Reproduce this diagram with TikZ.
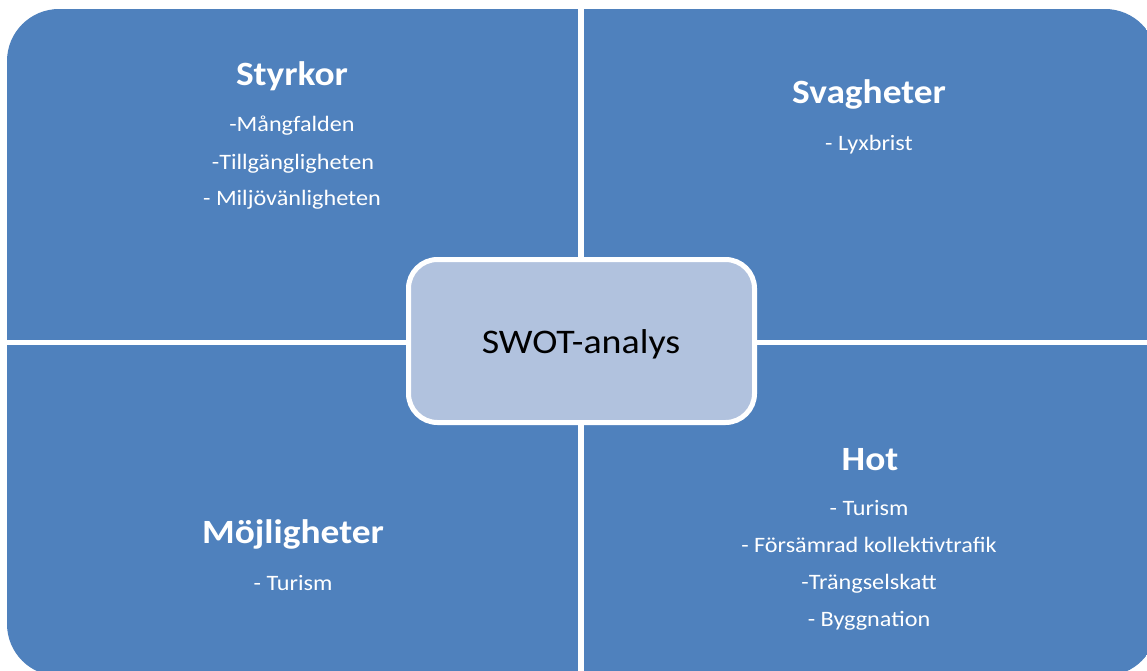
\documentclass[tikz,border=0pt]{standalone}
\usepackage{fontspec}
\setmainfont{Carlito}[FakeStretch=1.1]
\definecolor{quadblue}{HTML}{4F81BD}
\definecolor{centerfill}{HTML}{B1C2DE}
\tikzset{
  quad/.style={fill=quadblue},
  heading/.style={anchor=base, text=white, font=\fontsize{34}{40}\selectfont\bfseries, inner sep=0pt},
  item/.style={anchor=base, text=white, font=\fontsize{22}{26}\selectfont, inner sep=0pt},
  hub/.style={draw=white, line width=5pt, fill=centerfill, rounded corners=29pt,
              minimum width=346pt, minimum height=163pt, inner sep=0pt},
  hubtext/.style={anchor=base, text=black, font=\fontsize{34.5}{41}\selectfont, inner sep=0pt}
}
\begin{document}
\begin{tikzpicture}[x=1pt, y=-1pt]
  \useasboundingbox (0,0) rectangle (1147,671);
  \clip (0,0) rectangle (1147,671);
  \fill[white] (0,0) rectangle (1147,671);

  % four quadrants, rounded only at the outer corners
  \begin{scope}
    \clip[rounded corners=52pt] (7,9) rectangle (1157,676);
    \fill[quad] (7,9)     rectangle (578,340);
    \fill[quad] (584,9)   rectangle (1157,340);
    \fill[quad] (7,345)   rectangle (578,676);
    \fill[quad] (584,345) rectangle (1157,676);
  \end{scope}

  % Styrkor
  \node[heading] (s)  at (292,86)  {Styrkor};
  \node[item]    (s1) at (292,132) {-Mångfalden};
  \node[item]    (s2) at (293,169) {-Tillgängligheten};
  \node[item]    (s3) at (292,205) {- Miljövänligheten};

  % Svagheter
  \node[heading] (w)  at (869,104) {Svagheter};
  \node[item]    (w1) at (869,150) {- Lyxbrist};

  % Möjligheter
  \node[heading] (o)  at (293,543) {Möjligheter};
  \node[item]    (o1) at (293,590) {- Turism};

  % Hot
  \node[heading] (t)  at (870,470) {Hot};
  \node[item]    (t1) at (869,515) {- Turism};
  \node[item]    (t2) at (869,552) {- Försämrad kollektivtrafik};
  \node[item]    (t3) at (869,589) {-Trängselskatt};
  \node[item]    (t4) at (869,626) {- Byggnation};

  % centre box
  \node[hub] (hub) at (581.5,341) {};
  \node[hubtext] (hubt) at (581,353) {SWOT-analys};
\end{tikzpicture}
\end{document}
